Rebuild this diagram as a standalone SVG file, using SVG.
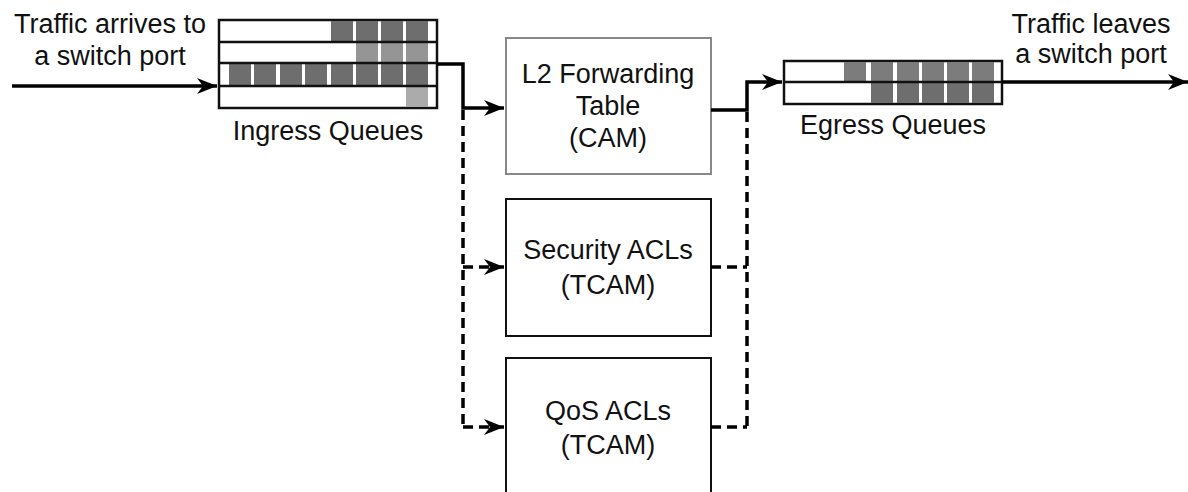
<svg xmlns="http://www.w3.org/2000/svg" width="1188" height="492" viewBox="0 0 1188 492">
<style>
text{font-family:"Liberation Sans",Arial,sans-serif;font-size:27px;fill:#111;text-anchor:middle}
.box{fill:#fff;stroke:#111;stroke-width:2}
.q{fill:#fff;stroke:#111;stroke-width:2.5}
.c1{fill:#6e6e6e}.c2{fill:#959595}.c3{fill:#ababab}.c4{fill:#7c7c7c}
.ln{fill:none;stroke:#000;stroke-width:3.5}
.ds{fill:none;stroke:#000;stroke-width:3.5;stroke-dasharray:10 6}
</style>
<defs>
<marker id="ah" markerUnits="userSpaceOnUse" markerWidth="22" markerHeight="18" refX="20" refY="8" orient="auto">
<path d="M0,0 L20,8 L0,16 L6,8 z" fill="#000"/>
</marker>
</defs>
<g id="ingress">
<rect class="q" x="219" y="20" width="218" height="88"/>
<rect class="c1" x="331" y="21" width="22" height="20"/><rect class="c1" x="356" y="21" width="22" height="20"/><rect class="c1" x="381" y="21" width="22" height="20"/><rect class="c1" x="406" y="21" width="22" height="20"/>
<rect class="c2" x="356" y="43" width="22" height="19"/><rect class="c2" x="381" y="43" width="22" height="19"/><rect class="c2" x="406" y="43" width="22" height="19"/>
<rect class="c1" x="229" y="64" width="22" height="21"/><rect class="c1" x="254" y="64" width="22" height="21"/><rect class="c1" x="280" y="64" width="22" height="21"/><rect class="c1" x="305" y="64" width="22" height="21"/><rect class="c1" x="331" y="64" width="22" height="21"/><rect class="c1" x="356" y="64" width="22" height="21"/><rect class="c1" x="381" y="64" width="22" height="21"/><rect class="c1" x="406" y="64" width="22" height="21"/>
<rect class="c3" x="406" y="87" width="22" height="20"/>
<line x1="219" y1="42" x2="437" y2="42" stroke="#111" stroke-width="2.5"/>
<line x1="219" y1="63" x2="437" y2="63" stroke="#111" stroke-width="2.5"/>
<line x1="219" y1="86" x2="437" y2="86" stroke="#111" stroke-width="2.5"/>
<text x="328" y="140">Ingress Queues</text>
</g>
<g id="egress">
<rect class="q" x="784" y="61" width="218" height="43"/>
<rect class="c4" x="844" y="62" width="22" height="19"/><rect class="c4" x="871" y="62" width="22" height="19"/><rect class="c4" x="897" y="62" width="22" height="19"/><rect class="c4" x="922" y="62" width="22" height="19"/><rect class="c4" x="947" y="62" width="22" height="19"/><rect class="c4" x="972" y="62" width="22" height="19"/>
<rect class="c1" x="871" y="83" width="22" height="20"/><rect class="c1" x="897" y="83" width="22" height="20"/><rect class="c1" x="922" y="83" width="22" height="20"/><rect class="c1" x="947" y="83" width="22" height="20"/><rect class="c1" x="972" y="83" width="22" height="20"/>
<line x1="784" y1="82" x2="1002" y2="82" stroke="#111" stroke-width="2.5"/>
<text x="893" y="134">Egress Queues</text>
</g>
<g id="l2">
<rect x="506" y="38" width="205" height="136" fill="#fff" stroke="#888" stroke-width="2"/>
<text x="608" y="83">L2 Forwarding</text>
<text x="608" y="115">Table</text>
<text x="608" y="147">(CAM)</text>
</g>
<g id="security">
<rect class="box" x="506" y="199" width="205" height="137"/>
<text x="608" y="259">Security ACLs</text>
<text x="608" y="294">(TCAM)</text>
</g>
<g id="qos">
<rect class="box" x="506" y="358" width="205" height="150"/>
<text x="608" y="420">QoS ACLs</text>
<text x="608" y="454">(TCAM)</text>
</g>
<g id="labels">
<text x="110" y="33">Traffic arrives to</text>
<text x="110" y="65">a switch port</text>
<text x="1091" y="33">Traffic leaves</text>
<text x="1091" y="63">a switch port</text>
</g>
<g id="connectors">
<line class="ln" x1="12" y1="86" x2="217" y2="86" marker-end="url(#ah)"/>
<path class="ln" d="M437,64 H463 V108 H504" marker-end="url(#ah)"/>
<path class="ds" d="M463,110 V427"/>
<path class="ds" d="M463,267 H504" marker-end="url(#ah)"/>
<path class="ds" d="M463,427 H504" marker-end="url(#ah)"/>
<path class="ln" d="M711,110 H747 V82 H782" marker-end="url(#ah)"/>
<path class="ds" d="M747,112 V427"/>
<path class="ds" d="M711,267 H747"/>
<path class="ds" d="M711,427 H747"/>
<line class="ln" x1="1002" y1="82" x2="1188" y2="82" marker-end="url(#ah)"/>
</g>
</svg>
